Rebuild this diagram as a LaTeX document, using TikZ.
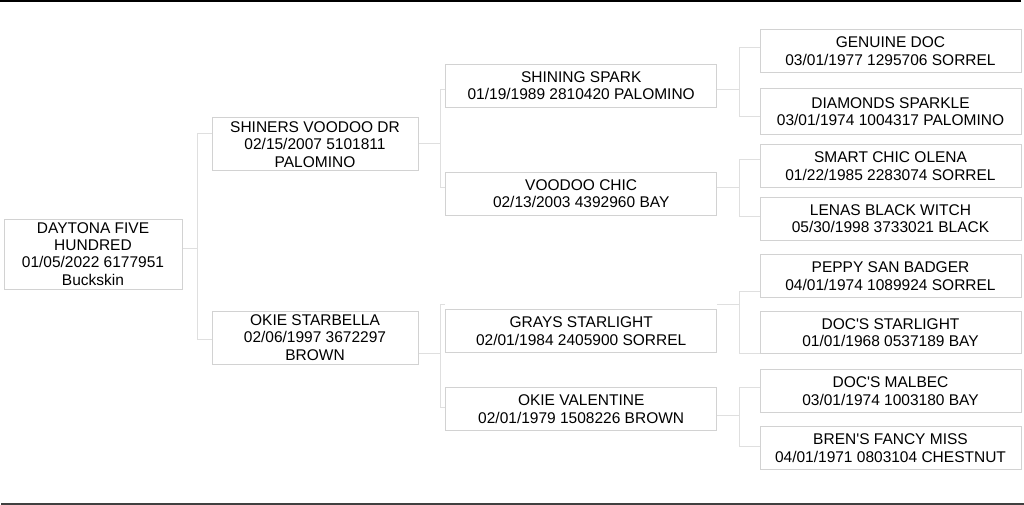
\documentclass[tikz,border=0pt]{standalone}
\usepackage{fontspec}
\setmainfont{Liberation Sans}
\begin{document}
\begin{tikzpicture}[x=1pt, y=-1pt,
	horseBox/.style={rectangle, draw=gray!35, line width=1pt, inner sep=0pt, align=center, text=black, font=\fontsize{15.5}{17.3}\selectfont},
	link/.style={draw=gray!25, line width=0.9pt},
	rule/.style={line width=2.2pt}]
	\useasboundingbox (0,0) rectangle (1024,505);

	\draw[rule, black] (0,1.1) -- (1021,1.1);
	\draw[rule, black!75] (1,504) -- (1024,504);

	\node[horseBox, minimum width=178, minimum height=70](daytonaBox) at (93,254){DAYTONA FIVE\\HUNDRED\\01/05/2022 6177951\\Buckskin};

	\node[horseBox, minimum width=206, minimum height=53](shinersBox)   at (315,144.5){SHINERS VOODOO DR\\02/15/2007 5101811\\PALOMINO};
	\node[horseBox, minimum width=206, minimum height=53](starbellaBox) at (315,337.5){OKIE STARBELLA\\02/06/1997 3672297\\BROWN};

	\node[horseBox, minimum width=271, minimum height=43.3](shiningBox)   at (581.2,85.7){SHINING SPARK\\01/19/1989 2810420 PALOMINO};
	\node[horseBox, minimum width=271, minimum height=43.3](voodooBox)    at (581.2,193.8){VOODOO CHIC\\02/13/2003 4392960 BAY};
	\node[horseBox, minimum width=271, minimum height=43.3](graysBox)     at (581.2,331.2){GRAYS STARLIGHT\\02/01/1984 2405900 SORREL};
	\node[horseBox, minimum width=271, minimum height=43.3](valentineBox) at (581.2,409.2){OKIE VALENTINE\\02/01/1979 1508226 BROWN};

	\node[horseBox, minimum width=261, minimum height=42.7](genuineBox)   at (890.5,51.3){GENUINE DOC\\03/01/1977 1295706 SORREL};
	\node[horseBox, minimum width=261, minimum height=46](diamondsBox)    at (890.5,112){DIAMONDS SPARKLE\\03/01/1974 1004317 PALOMINO};
	\node[horseBox, minimum width=261, minimum height=42.7](smartBox)     at (890.5,166.3){SMART CHIC OLENA\\01/22/1985 2283074 SORREL};
	\node[horseBox, minimum width=261, minimum height=42.7](lenasBox)     at (890.5,218.7){LENAS BLACK WITCH\\05/30/1998 3733021 BLACK};
	\node[horseBox, minimum width=261, minimum height=42.7](peppyBox)     at (890.5,276.2){PEPPY SAN BADGER\\04/01/1974 1089924 SORREL};
	\node[horseBox, minimum width=261, minimum height=42.7](starlightBox) at (890.5,332.5){DOC\textquotesingle S STARLIGHT\\01/01/1968 0537189 BAY};
	\node[horseBox, minimum width=261, minimum height=42.7](malbecBox)    at (890.5,391.3){DOC\textquotesingle S MALBEC\\03/01/1974 1003180 BAY};
	\node[horseBox, minimum width=261, minimum height=42.7](brensBox)     at (890.5,448.3){BREN\textquotesingle S FANCY MISS\\04/01/1971 0803104 CHESTNUT};

	% sire and dam links
	\draw[link] ([yshift=5.7]daytonaBox.east) -- ++(15,0) |- ([yshift=11.2]shinersBox.west);
	\draw[link] ([yshift=5.7]daytonaBox.east) -- ++(15,0) |- ([yshift=-1.8]starbellaBox.west);

	\draw[link] ([yshift=1.2]shinersBox.east) -- ++(22,0) |- ([yshift=-3.6]shiningBox.west);
	\draw[link] ([yshift=1.2]shinersBox.east) -- ++(22,0) |- ([yshift=6.5]voodooBox.west);
	\draw[link] ([yshift=-16.2]starbellaBox.east) -- ++(22,0) |- ([yshift=26.9]graysBox.west);
	\draw[link] ([yshift=-16.2]starbellaBox.east) -- ++(22,0) |- ([yshift=1.9]valentineBox.west);

	\draw[link] ([yshift=-3.6]shiningBox.east) -- ++(22.6,0) |- ([yshift=4]genuineBox.west);
	\draw[link] ([yshift=-3.6]shiningBox.east) -- ++(22.6,0) |- ([yshift=-4]diamondsBox.west);
	\draw[link] ([yshift=6.5]voodooBox.east) -- ++(22.6,0) |- ([yshift=7]smartBox.west);
	\draw[link] ([yshift=6.5]voodooBox.east) -- ++(22.6,0) |- ([yshift=2]lenasBox.west);
	\draw[link] ([yshift=26.9]graysBox.east) -- ++(22.6,0) |- ([yshift=-15.5]peppyBox.west);
	\draw[link] ([yshift=26.9]graysBox.east) -- ++(22.6,0) |- ([yshift=-20.8]starlightBox.west);
	\draw[link] ([yshift=-5.8]valentineBox.east) -- ++(22.6,0) |- ([yshift=3.6]malbecBox.west);
	\draw[link] ([yshift=-5.8]valentineBox.east) -- ++(22.6,0) |- ([yshift=1.6]brensBox.west);
\end{tikzpicture}
\end{document}
